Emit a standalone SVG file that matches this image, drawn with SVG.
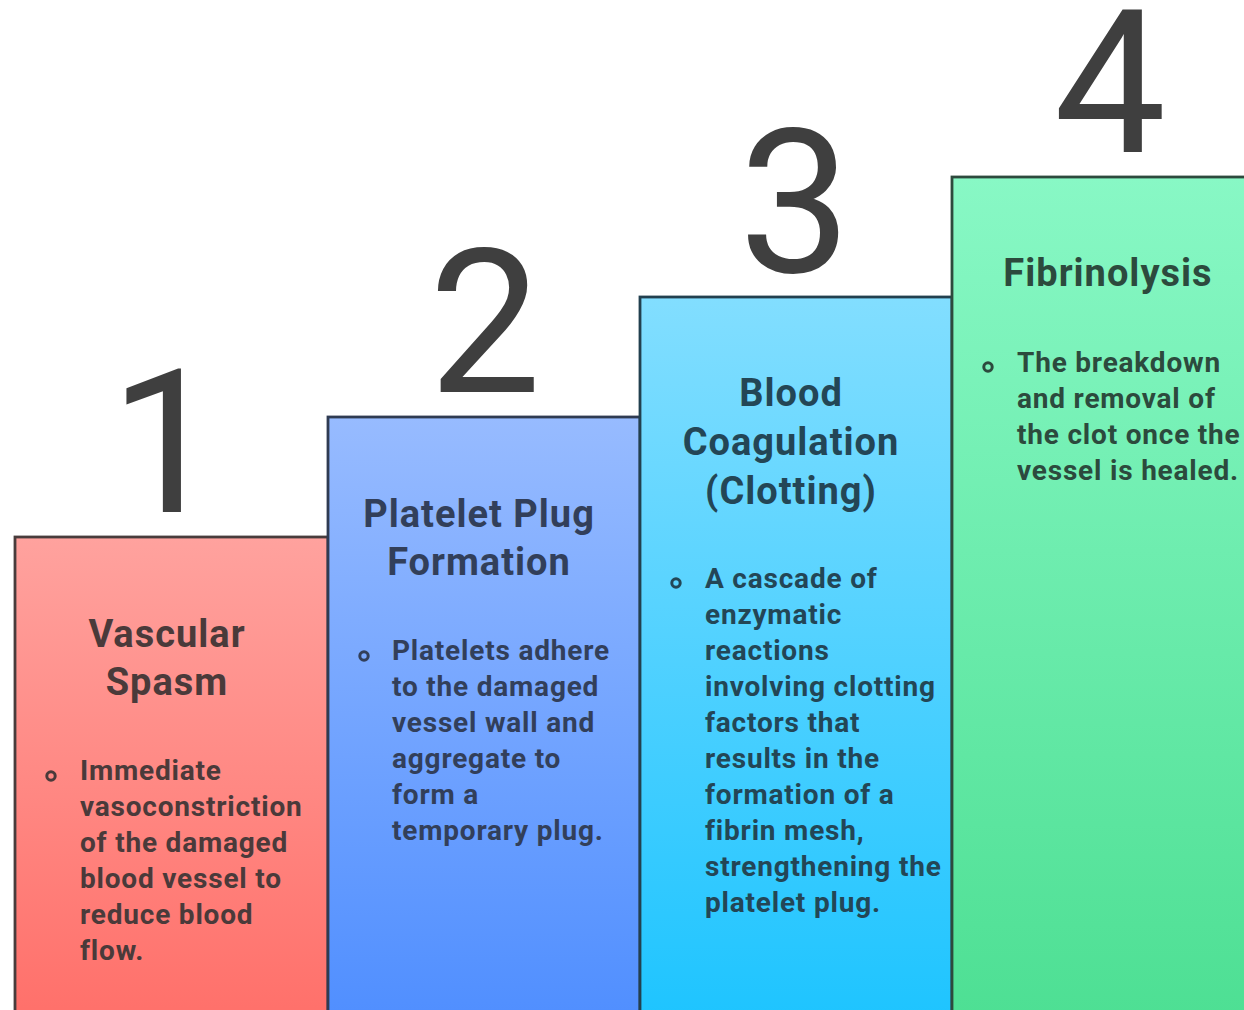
<svg xmlns="http://www.w3.org/2000/svg" width="1244" height="1010" viewBox="0 0 1244 1010">
<defs>
<linearGradient id="g1" x1="0" y1="0" x2="0" y2="1"><stop offset="0" stop-color="#ffa29e"/><stop offset="1" stop-color="#ff6f69"/></linearGradient>
<linearGradient id="g2" x1="0" y1="0" x2="0" y2="1"><stop offset="0" stop-color="#97bbff"/><stop offset="1" stop-color="#4f8eff"/></linearGradient>
<linearGradient id="g3" x1="0" y1="0" x2="0" y2="1"><stop offset="0" stop-color="#82deff"/><stop offset="1" stop-color="#1dc4ff"/></linearGradient>
<linearGradient id="g4" x1="0" y1="0" x2="0" y2="1"><stop offset="0" stop-color="#88f8c5"/><stop offset="1" stop-color="#4ddf93"/></linearGradient>
<style>
.box{stroke-width:2.8}
.num{font-family:Roboto,"Liberation Sans",sans-serif;font-size:200px;font-weight:400;fill:#3f3f3f;text-anchor:middle}
.title{font-family:Roboto,"Liberation Sans",sans-serif;font-size:38px;font-weight:700;letter-spacing:1px;text-anchor:middle}
.body{font-family:Roboto,"Liberation Sans",sans-serif;font-size:28px;font-weight:700;letter-spacing:0.8px}
.dot{fill:none;stroke-width:3}
</style>
</defs>
<rect width="1244" height="1010" fill="#ffffff"/>
<g id="step1">
<rect class="box" x="15" y="537" width="313" height="490" fill="url(#g1)" stroke="#483c3c"/>
<text class="num" x="166" y="512">1</text>
<text class="title" x="167" y="647" fill="#4a3a3a"><tspan x="167">Vascular</tspan><tspan x="167" dy="48">Spasm</tspan></text>
<circle class="dot" cx="51" cy="776" r="4.2" stroke="#4a3a3a"/>
<text class="body" x="80" y="780" fill="#4a3a3a"><tspan x="80">Immediate</tspan><tspan x="80" dy="36">vasoconstriction</tspan><tspan x="80" dy="36">of the damaged</tspan><tspan x="80" dy="36">blood vessel to</tspan><tspan x="80" dy="36">reduce blood</tspan><tspan x="80" dy="36">flow.</tspan></text>
</g>
<g id="step2">
<rect class="box" x="328" y="417" width="312" height="610" fill="url(#g2)" stroke="#2f3b52"/>
<text class="num" x="485" y="392">2</text>
<text class="title" x="479" y="527" fill="#323f5a"><tspan x="479">Platelet Plug</tspan><tspan x="479" dy="48">Formation</tspan></text>
<circle class="dot" cx="364" cy="656" r="4.2" stroke="#323f5a"/>
<text class="body" x="392" y="660" fill="#323f5a"><tspan x="392">Platelets adhere</tspan><tspan x="392" dy="36">to the damaged</tspan><tspan x="392" dy="36">vessel wall and</tspan><tspan x="392" dy="36">aggregate to</tspan><tspan x="392" dy="36">form a</tspan><tspan x="392" dy="36">temporary plug.</tspan></text>
</g>
<g id="step3">
<rect class="box" x="640" y="297" width="312" height="730" fill="url(#g3)" stroke="#22404f"/>
<text class="num" x="795" y="272">3</text>
<text class="title" x="791" y="406" fill="#234656"><tspan x="791">Blood</tspan><tspan x="791" dy="49">Coagulation</tspan><tspan x="791" dy="49">(Clotting)</tspan></text>
<circle class="dot" cx="676" cy="583" r="4.2" stroke="#234656"/>
<text class="body" x="705" y="588" fill="#234656"><tspan x="705">A cascade of</tspan><tspan x="705" dy="36">enzymatic</tspan><tspan x="705" dy="36">reactions</tspan><tspan x="705" dy="36">involving clotting</tspan><tspan x="705" dy="36">factors that</tspan><tspan x="705" dy="36">results in the</tspan><tspan x="705" dy="36">formation of a</tspan><tspan x="705" dy="36">fibrin mesh,</tspan><tspan x="705" dy="36">strengthening the</tspan><tspan x="705" dy="36">platelet plug.</tspan></text>
</g>
<g id="step4">
<rect class="box" x="952" y="177" width="320" height="850" fill="url(#g4)" stroke="#2d4a3d"/>
<text class="num" x="1110" y="152">4</text>
<text class="title" x="1108" y="286" fill="#2c4a3d">Fibrinolysis</text>
<circle class="dot" cx="988" cy="367" r="4.2" stroke="#2c4a3d"/>
<text class="body" x="1017" y="372" fill="#2c4a3d"><tspan x="1017">The breakdown</tspan><tspan x="1017" dy="36">and removal of</tspan><tspan x="1017" dy="36">the clot once the</tspan><tspan x="1017" dy="36">vessel is healed.</tspan></text>
</g>
<g id="connectors"/>
</svg>
